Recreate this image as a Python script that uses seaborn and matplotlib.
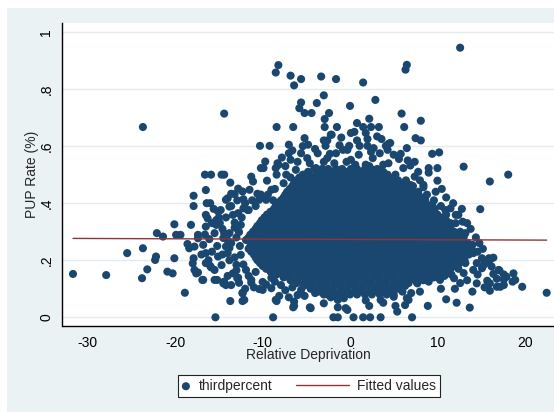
import numpy as np
import pandas as pd
import matplotlib
matplotlib.use("Agg")
import matplotlib.pyplot as plt
import seaborn as sns
from matplotlib.legend_handler import HandlerLine2D
from matplotlib.lines import Line2D
from matplotlib.patches import Rectangle

# ---------------------------------------------------------------------------
# Data: relative deprivation (x) vs. PUP rate (y)
# ---------------------------------------------------------------------------

# isolated observations above the main cloud
upper_pts = [
    (12.6, 0.945), (6.5, 0.885), (6.35, 0.868), (-8.5, 0.858), (-8.2, 0.884),
    (-6.8, 0.847), (-5.6, 0.835), (-6.4, 0.813), (-3.3, 0.844), (-1.6, 0.835),
    (1.5, 0.823), (-3.0, 0.778), (2.9, 0.762), (-5.6, 0.753), (-5.8, 0.733),
    (-3.8, 0.751), (-5.2, 0.716), (-4.4, 0.716), (-2.4, 0.716), (0.0, 0.741),
    (-23.7, 0.667), (-14.4, 0.714), (-8.4, 0.667), (-6.5, 0.667), (-2.9, 0.695),
    (-2.9, 0.667), (-1.5, 0.667), (0.8, 0.681), (2.2, 0.696), (1.5, 0.667),
    (2.4, 0.667), (3.3, 0.667), (5.9, 0.714), (6.2, 0.667), (8.1, 0.689),
    (-2.1, 0.640), (0.1, 0.646), (0.5, 0.650), (-5.2, 0.628), (2.0, 0.625),
    (3.1, 0.634), (3.6, 0.625), (1.8, 0.646), (-2.6, 0.620), (-2.2, 0.640),
    (7.5, 0.628), (8.1, 0.620), (-10.3, 0.601), (-9.2, 0.601), (-7.0, 0.605),
    (-4.8, 0.605), (-2.8, 0.601), (-1.2, 0.603), (-0.1, 0.601), (1.1, 0.601),
    (2.0, 0.601), (4.1, 0.601), (4.4, 0.608), (6.5, 0.593), (-6.6, 0.585),
    (-2.3, 0.573), (2.7, 0.593), (4.3, 0.587), (4.6, 0.611), (9.4, 0.573),
    (10.2, 0.578), (13.0, 0.528), (16.0, 0.476), (18.1, 0.500), (5.8, 0.573),
    (6.9, 0.532), (9.0, 0.523), (10.0, 0.523), (10.0, 0.479), (8.4, 0.464),
    (8.4, 0.456), (9.0, 0.507), (7.4, 0.493), (-10.2, 0.523), (-9.7, 0.546),
    (-16.6, 0.500), (-15.9, 0.500), (-14.7, 0.500), (-14.4, 0.500), (-8.4, 0.500),
    (-8.2, 0.534), (-11.3, 0.493), (-11.1, 0.476), (-13.7, 0.472), (-9.5, 0.479),
    (-9.9, 0.523), (-8.3, 0.540), (-8.5, 0.523), (-6.8, 0.552), (-5.6, 0.575),
    (-4.9, 0.558), (-3.7, 0.575), (-2.6, 0.558), (-1.6, 0.575), (-0.3, 0.587),
    (-0.8, 0.587), (0.1, 0.552), (1.0, 0.570), (1.8, 0.535), (2.6, 0.558),
    (4.4, 0.540), (6.1, 0.523), (5.2, 0.500), (-7.3, 0.500), (-6.2, 0.517),
    (-3.9, 0.523), (-1.6, 0.517), (3.5, 0.517),
    (-7.8, 0.560), (-7.0, 0.575), (-5.4, 0.600), (-4.0, 0.590), (-3.0, 0.620),
    (-1.0, 0.630), (0.8, 0.620), (2.4, 0.580), (3.4, 0.575), (5.0, 0.570),
    (5.6, 0.555), (6.6, 0.550), (7.4, 0.545), (7.8, 0.510), (8.0, 0.480),
    (-7.4, 0.530), (-6.0, 0.545), (-4.6, 0.540), (-3.0, 0.545), (-1.8, 0.540),
    (-0.4, 0.545), (0.6, 0.535), (2.2, 0.530), (3.8, 0.535), (-6.8, 0.490),
    (-7.6, 0.470), (-8.6, 0.450), (-9.4, 0.430), (-10.2, 0.430), (-8.8, 0.410),
    (6.4, 0.480), (7.2, 0.460), (7.8, 0.440), (8.8, 0.430), (9.6, 0.410),
    (10.4, 0.390), (11.0, 0.360),
]

# scattered observations to the left of the cloud
left_pts = [
    (-16.5, 0.446), (-17.9, 0.426), (-12.8, 0.451), (-12.3, 0.441), (-11.5, 0.447),
    (-10.6, 0.433), (-13.6, 0.433), (-12.2, 0.414), (-16.4, 0.400), (-16.3, 0.347),
    (-15.3, 0.341), (-14.8, 0.376), (-14.0, 0.417), (-13.2, 0.432), (-12.2, 0.382),
    (-17.9, 0.390), (-18.2, 0.324), (-20.1, 0.326), (-14.2, 0.412), (-13.8, 0.388),
    (-12.8, 0.365), (-15.1, 0.371), (-16.5, 0.359), (-14.9, 0.330), (-13.2, 0.332),
    (-11.7, 0.376), (-10.8, 0.390), (-9.6, 0.412), (-9.0, 0.447), (-6.8, 0.429),
    (-7.9, 0.394), (-9.0, 0.359), (-10.0, 0.335), (-10.8, 0.306), (-5.6, 0.454),
    (-4.5, 0.440), (-3.3, 0.464), (-1.1, 0.475), (-31.7, 0.152), (-27.9, 0.148),
    (-25.5, 0.225), (-23.7, 0.242), (-23.8, 0.137), (-23.2, 0.168), (-22.3, 0.201),
    (-22.2, 0.213), (-22.1, 0.295), (-21.4, 0.283), (-20.9, 0.160), (-20.3, 0.154),
    (-20.1, 0.207), (-19.9, 0.289), (-19.4, 0.289), (-18.9, 0.086), (-18.6, 0.257),
    (-18.4, 0.242), (-18.0, 0.189), (-17.9, 0.207), (-17.8, 0.166), (-17.4, 0.157),
    (-16.9, 0.131), (-17.4, 0.289), (-16.5, 0.225), (-17.8, 0.248), (-17.4, 0.277),
    (-16.8, 0.254), (-15.5, 0.295), (-14.4, 0.295), (-13.2, 0.314), (-17.6, 0.154),
    (-16.0, 0.180), (-15.2, 0.131), (-14.4, 0.125), (-13.6, 0.113), (-12.8, 0.139),
    (-12.3, 0.084), (-12.1, 0.061), (-10.4, 0.099), (-16.5, 0.190), (-15.5, 0.166),
    (-15.9, 0.175), (-14.7, 0.183), (-13.4, 0.154), (-15.1, 0.213), (-14.0, 0.225),
    (-16.5, 0.318), (-15.3, 0.324), (-13.8, 0.295), (-14.2, 0.248), (-16.1, 0.274),
    (-16.8, 0.131), (-15.5, 0.131), (-14.5, 0.119), (-14.2, 0.113), (-12.9, 0.137),
    (-12.7, 0.121), (-11.3, 0.121), (-12.5, 0.219), (-13.0, 0.184), (-11.9, 0.166),
    (-11.3, 0.131), (-10.8, 0.159), (-10.0, 0.124), (-9.0, 0.138), (-7.9, 0.113),
    (-6.8, 0.131), (-5.6, 0.096), (-13.8, 0.243), (-13.4, 0.359), (-12.5, 0.324),
    (-11.6, 0.376), (-10.4, 0.412), (-14.5, 0.278), (-12.7, 0.299), (-11.9, 0.271),
    (-16.0, 0.400), (-15.6, 0.380), (-15.0, 0.350), (-14.6, 0.310), (-14.0, 0.270),
    (-13.6, 0.260), (-13.0, 0.280), (-12.6, 0.250), (-13.2, 0.210), (-13.8, 0.200),
    (-14.6, 0.220), (-15.2, 0.250), (-15.8, 0.230), (-16.2, 0.200), (-17.0, 0.220),
    (-16.6, 0.290), (-15.8, 0.330), (-14.2, 0.350), (-13.6, 0.390), (-12.9, 0.410),
    (-12.0, 0.400), (-11.2, 0.410), (-12.4, 0.350), (-13.0, 0.165), (-12.2, 0.185),
    (-14.0, 0.145), (-11.6, 0.145), (-12.0, 0.100), (-11.0, 0.105), (-9.6, 0.115),
    (-8.6, 0.125), (-7.4, 0.095), (-6.6, 0.105), (-7.0, 0.070), (-5.2, 0.075),
    (-4.0, 0.085), (-3.0, 0.080), (-2.2, 0.070),
]

# observations below the cloud, close to zero
lower_pts = [
    (-15.4, 0.000), (-8.8, 0.000), (-1.9, 0.000), (-1.4, 0.000), (0.4, 0.000),
    (1.5, 0.000), (2.3, 0.000), (3.5, 0.000), (7.1, 0.000), (-13.7, 0.057),
    (-12.3, 0.057), (-12.3, 0.086), (-10.0, 0.096), (-9.0, 0.102), (-8.4, 0.057),
    (-8.1, 0.075), (-6.5, 0.035), (-6.4, 0.055), (-6.0, 0.078), (-4.6, 0.035),
    (-3.0, 0.049), (-1.4, 0.061), (-1.4, 0.035), (-0.3, 0.026), (-4.5, 0.032),
    (-0.5, 0.032), (1.8, 0.059), (3.5, 0.061), (5.0, 0.072), (6.5, 0.067),
    (3.9, 0.090), (-0.7, 0.067), (5.4, 0.020), (5.2, 0.040), (6.7, 0.061),
    (6.3, 0.043), (2.2, 0.040), (3.8, 0.051), (-8.5, 0.061), (-6.4, 0.040),
]

# observations to the right of the cloud
right_pts = [
    (13.7, 0.034), (12.2, 0.051), (11.0, 0.063), (8.9, 0.040), (22.5, 0.086),
    (19.7, 0.107), (18.7, 0.154), (18.6, 0.125), (17.6, 0.133), (17.6, 0.113),
    (17.1, 0.164), (16.8, 0.107), (16.0, 0.093), (16.0, 0.119), (16.4, 0.209),
    (15.7, 0.192), (15.1, 0.172), (16.4, 0.152), (13.6, 0.236), (15.9, 0.207),
    (15.3, 0.183), (14.5, 0.190), (14.1, 0.166), (16.2, 0.178), (14.0, 0.254),
    (12.6, 0.300), (13.0, 0.285), (11.5, 0.330), (6.3, 0.113), (7.7, 0.119),
    (9.0, 0.125), (10.3, 0.131), (11.9, 0.137), (14.5, 0.119), (15.7, 0.128),
    (14.9, 0.379), (12.4, 0.359), (11.5, 0.382), (12.1, 0.330), (13.2, 0.295),
    (14.1, 0.225), (15.1, 0.207), (16.0, 0.201), (17.0, 0.166), (17.9, 0.142),
    (18.9, 0.131), (17.2, 0.107), (9.4, 0.394), (10.9, 0.376), (12.1, 0.359),
    (12.9, 0.335), (8.6, 0.412), (7.5, 0.429), (6.9, 0.464),
    (11.0, 0.420), (10.5, 0.450), (9.8, 0.440), (11.8, 0.400), (12.8, 0.380),
    (13.4, 0.330), (13.8, 0.310), (14.4, 0.280), (14.8, 0.260), (15.2, 0.240),
    (14.6, 0.230), (13.2, 0.190), (12.4, 0.170), (13.0, 0.155), (11.6, 0.150),
    (10.8, 0.145), (9.6, 0.140), (8.6, 0.135), (7.6, 0.125), (12.6, 0.120),
    (13.4, 0.130), (14.6, 0.150), (17.6, 0.150), (16.8, 0.135), (15.4, 0.105),
    (14.0, 0.090), (12.0, 0.100), (10.4, 0.100), (8.0, 0.090), (7.0, 0.085),
    (6.0, 0.090),
]

# dense centre of the cloud, one list of x values per PUP-rate band
core_pup = [0.52, 0.51, 0.50, 0.49, 0.48, 0.47, 0.46, 0.45, 0.44, 0.43, 0.42, 0.41,
            0.40, 0.39, 0.38, 0.37, 0.36, 0.35, 0.34, 0.33, 0.32, 0.31, 0.30, 0.29,
            0.28, 0.27, 0.26, 0.25, 0.24, 0.23, 0.22, 0.21, 0.20, 0.19, 0.18, 0.17,
            0.16, 0.15, 0.14, 0.13, 0.12, 0.11, 0.10, 0.09, 0.08]
core_rd = [
    [-4.1, -3.2, -2.5, -1.6, -0.9, 0.1, 0.8, 1.7, 2.4, 3.1],
    [-4.8, -3.6, -2.8, -2.0, -1.2, -0.3, 0.5, 1.4, 2.1, 3.0, 3.8],
    [-5.4, -4.7, -3.9, -3.0, -2.2, -1.4, -0.6, 0.3, 1.1, 1.9, 2.6, 3.5, 4.3],
    [-5.8, -5.0, -4.2, -3.4, -2.5, -1.7, -0.8, 0.0, 0.9, 1.7, 2.6, 3.4, 4.2, 5.0],
    [-6.1, -5.2, -4.4, -3.6, -2.9, -2.0, -1.1, -0.3, 0.6, 1.4, 2.3, 3.0, 3.9, 4.7, 5.5],
    [-6.4, -5.6, -4.8, -3.9, -3.1, -2.2, -1.4, -0.5, 0.3, 1.2, 2.0, 2.9, 3.7, 4.6, 5.4,
     6.2],
    [-6.6, -5.8, -5.0, -4.1, -3.3, -2.5, -1.6, -0.8, 0.1, 0.9, 1.8, 2.6, 3.4, 4.3, 5.1,
     5.9, 6.6],
    [-6.9, -6.1, -5.2, -4.4, -3.5, -2.7, -1.8, -1.0, -0.1, 0.7, 1.6, 2.4, 3.3, 4.1, 5.0,
     5.8, 6.7],
    [-7.2, -6.3, -5.5, -4.6, -3.8, -2.9, -2.1, -1.2, -0.4, 0.5, 1.3, 2.2, 3.0, 3.8, 4.7,
     5.5, 6.3, 7.1],
    [-7.4, -6.6, -5.7, -4.9, -4.0, -3.2, -2.3, -1.5, -0.6, 0.2, 1.1, 1.9, 2.8, 3.6, 4.5,
     5.3, 6.2, 7.0, 7.8],
    [-7.6, -6.8, -6.0, -5.1, -4.3, -3.5, -2.6, -1.8, -0.9, -0.1, 0.8, 1.6, 2.5, 3.3, 4.2,
     5.0, 5.9, 6.7, 7.5, 8.2],
    [-7.9, -7.1, -6.2, -5.4, -4.5, -3.7, -2.8, -2.0, -1.1, -0.3, 0.6, 1.4, 2.3, 3.1, 4.0,
     4.8, 5.7, 6.5, 7.4, 8.3],
    [-8.2, -7.3, -6.5, -5.6, -4.8, -4.0, -3.1, -2.3, -1.4, -0.6, 0.3, 1.1, 2.0, 2.8, 3.7,
     4.5, 5.4, 6.2, 7.1, 7.9, 8.7],
    [-8.5, -7.7, -6.8, -6.0, -5.1, -4.3, -3.4, -2.6, -1.7, -0.9, 0.0, 0.8, 1.7, 2.5, 3.4,
     4.2, 5.1, 5.9, 6.8, 7.6, 8.5, 9.2],
    [-8.7, -7.9, -7.0, -6.2, -5.3, -4.5, -3.6, -2.8, -2.0, -1.1, -0.3, 0.6, 1.4, 2.3, 3.1,
     4.0, 4.8, 5.7, 6.5, 7.4, 8.2, 9.0, 9.7],
    [-9.1, -8.3, -7.4, -6.6, -5.7, -4.9, -4.0, -3.2, -2.3, -1.5, -0.6, 0.2, 1.1, 1.9, 2.8,
     3.6, 4.5, 5.3, 6.2, 7.0, 7.9, 8.7, 9.5],
    [-9.5, -8.7, -7.8, -7.0, -6.1, -5.3, -4.4, -3.6, -2.7, -1.9, -1.0, -0.2, 0.7, 1.5, 2.4,
     3.2, 4.1, 4.9, 5.8, 6.6, 7.5, 8.3, 9.2, 10.0],
    [-9.8, -8.9, -8.1, -7.2, -6.4, -5.5, -4.7, -3.8, -3.0, -2.1, -1.3, -0.4, 0.4, 1.3, 2.1,
     3.0, 3.8, 4.7, 5.5, 6.4, 7.2, 8.1, 8.9, 9.8, 10.6],
    [-10.1, -9.2, -8.4, -7.5, -6.7, -5.8, -5.0, -4.1, -3.3, -2.4, -1.6, -0.7, 0.1, 1.0,
     1.8, 2.7, 3.5, 4.4, 5.2, 6.1, 6.9, 7.8, 8.6, 9.5, 10.3, 11.0],
    [-10.3, -9.5, -8.6, -7.8, -6.9, -6.1, -5.2, -4.4, -3.5, -2.7, -1.8, -1.0, -0.1, 0.7,
     1.6, 2.4, 3.3, 4.1, 5.0, 5.8, 6.7, 7.5, 8.4, 9.2, 10.1, 10.9],
    [-10.6, -9.7, -8.9, -8.0, -7.2, -6.3, -5.5, -4.6, -3.8, -2.9, -2.1, -1.2, -0.4, 0.5,
     1.3, 2.2, 3.0, 3.9, 4.7, 5.6, 6.4, 7.3, 8.1, 9.0, 9.8, 10.7, 11.5],
    [-10.8, -10.0, -9.1, -8.3, -7.4, -6.6, -5.7, -4.9, -4.0, -3.2, -2.3, -1.5, -0.6, 0.2,
     1.1, 1.9, 2.8, 3.6, 4.5, 5.3, 6.2, 7.0, 7.9, 8.7, 9.6, 10.4, 11.3],
    [-11.1, -10.2, -9.4, -8.5, -7.7, -6.8, -6.0, -5.1, -4.3, -3.4, -2.6, -1.7, -0.9, 0.0,
     0.8, 1.7, 2.5, 3.4, 4.2, 5.1, 5.9, 6.8, 7.6, 8.5, 9.3, 10.2, 11.0, 11.9],
    [-11.4, -10.5, -9.7, -8.8, -8.0, -7.1, -6.3, -5.4, -4.6, -3.7, -2.9, -2.0, -1.2, -0.3,
     0.5, 1.4, 2.2, 3.1, 3.9, 4.8, 5.6, 6.5, 7.3, 8.2, 9.0, 9.9, 10.7, 11.6, 12.4],
    [-11.6, -10.7, -9.9, -9.0, -8.2, -7.3, -6.5, -5.6, -4.8, -3.9, -3.1, -2.2, -1.4, -0.5,
     0.3, 1.2, 2.0, 2.9, 3.7, 4.6, 5.4, 6.3, 7.1, 8.0, 8.8, 9.7, 10.5, 11.4, 12.2, 13.0],
    [-11.5, -11.0, -10.1, -9.3, -8.4, -7.6, -6.7, -5.9, -5.0, -4.2, -3.3, -2.5, -1.6, -0.8,
     0.1, 0.9, 1.8, 2.6, 3.5, 4.3, 5.2, 6.0, 6.9, 7.7, 8.6, 9.4, 10.3, 11.1, 12.0, 12.8],
    [-11.2, -10.3, -9.5, -8.6, -7.8, -6.9, -6.1, -5.2, -4.4, -3.5, -2.7, -1.8, -1.0, -0.1,
     0.7, 1.6, 2.4, 3.3, 4.1, 5.0, 5.8, 6.7, 7.5, 8.4, 9.2, 10.1, 10.9, 11.8, 12.6, 13.5],
    [-11.4, -10.5, -9.7, -8.8, -8.0, -7.1, -6.3, -5.4, -4.6, -3.7, -2.9, -2.0, -1.2, -0.3,
     0.5, 1.4, 2.2, 3.1, 3.9, 4.8, 5.6, 6.5, 7.3, 8.2, 9.0, 9.9, 10.7, 11.6, 12.4, 13.3],
    [-11.6, -10.7, -9.9, -9.0, -8.2, -7.3, -6.5, -5.6, -4.8, -3.9, -3.1, -2.2, -1.4, -0.5,
     0.3, 1.2, 2.0, 2.9, 3.7, 4.6, 5.4, 6.3, 7.1, 8.0, 8.8, 9.7, 10.5, 11.4, 12.2, 13.1,
     13.9],
    [-11.3, -10.4, -9.6, -8.7, -7.9, -7.0, -6.2, -5.3, -4.5, -3.6, -2.8, -1.9, -1.1, -0.2,
     0.6, 1.5, 2.3, 3.2, 4.0, 4.9, 5.7, 6.6, 7.4, 8.3, 9.1, 10.0, 10.8, 11.7, 12.5, 13.4],
    [-11.0, -10.2, -9.3, -8.5, -7.6, -6.8, -5.9, -5.1, -4.2, -3.4, -2.5, -1.7, -0.8, 0.0,
     0.9, 1.7, 2.6, 3.4, 4.3, 5.1, 6.0, 6.8, 7.7, 8.5, 9.4, 10.2, 11.1, 11.9, 12.8, 13.6],
    [-10.8, -9.9, -9.1, -8.2, -7.4, -6.5, -5.7, -4.8, -4.0, -3.1, -2.3, -1.4, -0.6, 0.3,
     1.1, 2.0, 2.8, 3.7, 4.5, 5.4, 6.2, 7.1, 7.9, 8.8, 9.6, 10.5, 11.3, 12.2, 13.0],
    [-10.6, -9.7, -8.9, -8.0, -7.2, -6.3, -5.5, -4.6, -3.8, -2.9, -2.1, -1.2, -0.4, 0.5,
     1.3, 2.2, 3.0, 3.9, 4.7, 5.6, 6.4, 7.3, 8.1, 9.0, 9.8, 10.7, 11.5, 12.4, 13.1],
    [-10.3, -9.4, -8.6, -7.7, -6.9, -6.0, -5.2, -4.3, -3.5, -2.6, -1.8, -0.9, -0.1, 0.8,
     1.6, 2.5, 3.3, 4.2, 5.0, 5.9, 6.7, 7.6, 8.4, 9.3, 10.1, 11.0, 11.8, 12.5],
    [-10.0, -9.2, -8.3, -7.5, -6.6, -5.8, -4.9, -4.1, -3.2, -2.4, -1.5, -0.7, 0.2, 1.0,
     1.9, 2.7, 3.6, 4.4, 5.3, 6.1, 7.0, 7.8, 8.7, 9.5, 10.4, 11.2, 12.0],
    [-9.6, -8.7, -7.9, -7.0, -6.2, -5.3, -4.5, -3.6, -2.8, -1.9, -1.1, -0.2, 0.6, 1.5,
     2.3, 3.2, 4.0, 4.9, 5.7, 6.6, 7.4, 8.3, 9.1, 10.0, 10.8, 11.5],
    [-9.1, -8.2, -7.4, -6.5, -5.7, -4.8, -4.0, -3.1, -2.3, -1.4, -0.6, 0.3, 1.1, 2.0, 2.8,
     3.7, 4.5, 5.4, 6.2, 7.1, 7.9, 8.8, 9.6, 10.5, 11.1],
    [-8.4, -7.5, -6.7, -5.8, -5.0, -4.1, -3.3, -2.4, -1.6, -0.7, 0.1, 1.0, 1.8, 2.7, 3.5,
     4.4, 5.2, 6.1, 6.9, 7.8, 8.6, 9.5, 10.3],
    [-7.6, -6.8, -5.9, -5.1, -4.2, -3.4, -2.5, -1.7, -0.8, 0.0, 0.9, 1.7, 2.6, 3.4, 4.3,
     5.1, 6.0, 6.8, 7.7, 8.5, 9.4],
    [-6.8, -6.0, -5.1, -4.3, -3.4, -2.6, -1.7, -0.9, 0.0, 0.8, 1.7, 2.5, 3.4, 4.2, 5.1,
     5.9, 6.8, 7.6, 8.4],
    [-6.1, -5.2, -4.4, -3.5, -2.7, -1.8, -1.0, -0.1, 0.7, 1.6, 2.4, 3.3, 4.1, 5.0, 5.8, 6.7],
    [-5.3, -4.5, -3.6, -2.8, -1.9, -1.1, -0.2, 0.6, 1.5, 2.3, 3.2, 4.0, 4.9, 5.7, 6.3],
    [-4.5, -3.7, -2.8, -2.0, -1.1, -0.3, 0.6, 1.4, 2.3, 3.1, 4.0, 4.8, 5.5],
    [-3.6, -2.7, -1.9, -1.0, -0.2, 0.7, 1.5, 2.4, 3.2, 4.1, 4.9],
    [-2.6, -1.7, -0.9, 0.0, 0.8, 1.7, 2.5, 3.4, 4.2, 5.0],
]

# linear fit, evaluated at the smallest and largest relative deprivation
fit_rd = [-31.7, 22.5]
fit_pup = [0.2765, 0.2705]

# x / y axis ticks
x_ticks = [-30, -20, -10, 0, 10, 20]
y_ticks = [0, 0.2, 0.4, 0.6, 0.8, 1.0]
y_tick_labels = ["0", ".2", ".4", ".6", ".8", "1"]

# ---------------------------------------------------------------------------
pairs = upper_pts + left_pts + lower_pts + right_pts
pairs += [(x, y) for y, xs in zip(core_pup, core_rd) for x in xs]
df = pd.DataFrame(pairs, columns=["rd", "thirdpercent"])
fit_df = pd.DataFrame({"rd": fit_rd, "fitted": fit_pup})

NAVY = "#1A476F"
MAROON = "#90353B"
BG = "#EAF2F3"

sns.set_style("white")
plt.rcParams["font.family"] = ["Liberation Sans", "DejaVu Sans"]
plt.rcParams["axes.unicode_minus"] = False

W, H = 554, 412
fig = plt.figure(figsize=(W / 100, H / 100), dpi=100)
fig.patch.set_facecolor("white")
fig.patches.append(Rectangle((7 / W, 0), 1 - 7 / W, (H - 8) / H,
                             transform=fig.transFigure, facecolor=BG,
                             edgecolor="none", zorder=-10))

left, right, top, bottom = 62.5, 554, 23, 326
ax = fig.add_axes([left / W, (H - bottom) / H, (right - left) / W, (bottom - top) / H])
ax.set_facecolor("white")

sns.scatterplot(data=df, x="rd", y="thirdpercent", ax=ax, color=NAVY, s=34,
                linewidth=0, edgecolor="none", label="thirdpercent", zorder=2)
sns.lineplot(data=fit_df, x="rd", y="fitted", ax=ax, color=MAROON, linewidth=1.0,
             label="Fitted values", zorder=3)

ax.set_xlim(-32.9, 23.34)
ax.set_ylim(-0.0305, 1.0316)
ax.set_xticks(x_ticks)
ax.set_xticklabels([str(t) for t in x_ticks])
ax.set_yticks(y_ticks)
ax.set_yticklabels(y_tick_labels)

ax.set_axisbelow(True)
ax.yaxis.grid(True, color="#E2EBEE", linewidth=1.0)
ax.xaxis.grid(False)

for side in ("top", "right"):
    ax.spines[side].set_visible(False)
for side in ("left", "bottom"):
    ax.spines[side].set_color("black")
    ax.spines[side].set_linewidth(1.0)

ax.tick_params(axis="both", which="major", direction="out", length=3.6, width=0.9,
               color="black", labelsize=10, labelcolor="black")
ax.tick_params(axis="x", pad=3.5)
ax.tick_params(axis="y", pad=3.0, labelrotation=90)
for lbl in ax.get_yticklabels():
    lbl.set_va("center")

ax.set_xlabel("Relative Deprivation", fontsize=10)
ax.set_ylabel("PUP Rate (%)", fontsize=10)
ax.xaxis.set_label_coords(0.5, -(348.4 - bottom) / (bottom - top))
ax.yaxis.set_label_coords((39 - left) / (right - left), 0.5)


class LongLineHandler(HandlerLine2D):
    """Legend line that reaches further left than the shared handle box."""

    def __init__(self, extend_left, **kw):
        super().__init__(**kw)
        self.extend_left = extend_left

    def create_artists(self, legend, orig_handle, xdescent, ydescent, width, height,
                       fontsize, trans):
        y = (height - ydescent) / 2
        line = Line2D([-xdescent - self.extend_left, -xdescent + width], [y, y])
        self.update_prop(line, orig_handle, legend)
        line.set_transform(trans)
        return [line]


handles, labels = ax.get_legend_handles_labels()
if ax.get_legend() is not None:
    ax.get_legend().remove()
line_handle = handles[labels.index("Fitted values")]
leg = fig.legend(handles, labels, loc="center",
                 bbox_to_anchor=(309 / W, 1 - 385.9 / H), ncol=2,
                 frameon=True, fancybox=False, framealpha=1, edgecolor="#222222",
                 borderpad=0.3, handlelength=0.6, handletextpad=0.61,
                 columnspacing=4.91, borderaxespad=0, scatterpoints=1, fontsize=10,
                 handler_map={line_handle: LongLineHandler(32.3)})
leg.get_frame().set_linewidth(0.8)

fig.savefig("out.png", dpi=100, facecolor=fig.get_facecolor())
